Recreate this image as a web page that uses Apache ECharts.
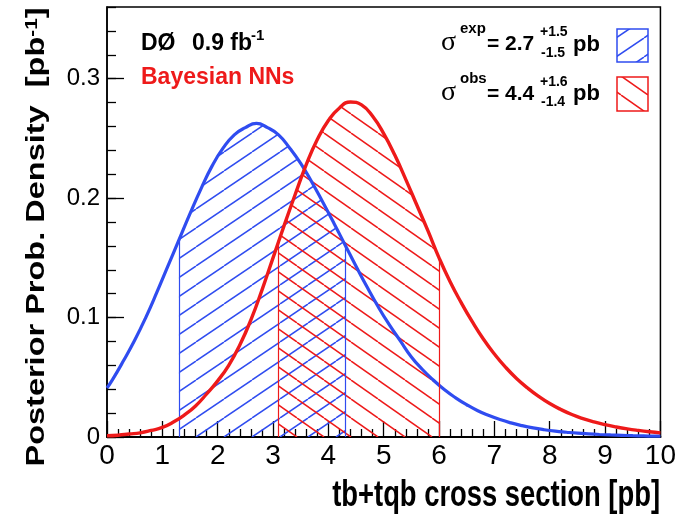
<!DOCTYPE html>
<html>
<head>
<meta charset="utf-8">
<script src="https://cdn.jsdelivr.net/npm/echarts@6/dist/echarts.min.js"></script>
<style>
  html, body { margin: 0; padding: 0; background: #fff; }
  #main { width: 679px; height: 522px; }
</style>
</head>
<body>
<div id="main"></div>
<script>
// expected posterior
var expX = [0, 0.1, 0.3, 0.5, 0.7, 0.9, 1.1, 1.3, 1.5, 1.7, 1.9, 2.1, 2.3, 2.5, 2.7, 2.9, 3.1, 3.3, 3.5, 3.7, 3.9, 4.1, 4.3, 4.5, 4.7, 4.9,
            5.1, 5.3, 5.5, 5.7, 5.9, 6.1, 6.3, 6.5, 6.7, 6.9, 7.1, 7.3, 7.5, 7.7, 7.9, 8.1, 8.3, 8.5, 8.7, 8.9, 9.1, 9.3, 9.5, 9.7, 9.9, 10];
var expY = [0.041, 0.048, 0.064, 0.081, 0.100, 0.121, 0.143, 0.165, 0.187, 0.208, 0.227, 0.242, 0.253, 0.259, 0.2625, 0.259, 0.253, 0.242, 0.229, 0.2135, 0.1965, 0.179, 0.161, 0.143, 0.1255, 0.109,
            0.094, 0.0805, 0.067, 0.0565, 0.0475, 0.0395, 0.0328, 0.027, 0.022, 0.018, 0.0146, 0.0118, 0.0095, 0.0076, 0.0061, 0.0049, 0.004, 0.0032, 0.0026, 0.0021, 0.0017, 0.0014, 0.0011, 0.0009, 0.0007, 0.0007];
// observed posterior
var obsX = [0, 0.2, 0.4, 0.6, 0.8, 1, 1.2, 1.4, 1.6, 1.8, 2, 2.2, 2.4, 2.6, 2.8, 3, 3.2, 3.4, 3.6, 3.8, 4, 4.2, 4.4, 4.6, 4.8,
            5, 5.2, 5.4, 5.6, 5.8, 6, 6.2, 6.4, 6.6, 6.8, 7, 7.2, 7.4, 7.6, 7.8, 8, 8.2, 8.4, 8.6, 8.8, 9, 9.2, 9.4, 9.6, 9.8, 10];
var obsY = [0.001, 0.0015, 0.0025, 0.0035, 0.0055, 0.008, 0.0125, 0.0185, 0.026, 0.036, 0.047, 0.060, 0.077, 0.098, 0.123, 0.150, 0.177, 0.203, 0.228, 0.249, 0.265, 0.2755, 0.2805, 0.278, 0.2685,
            0.254, 0.236, 0.2155, 0.194, 0.1725, 0.150, 0.130, 0.1125, 0.0965, 0.082, 0.0695, 0.0585, 0.049, 0.041, 0.034, 0.028, 0.023, 0.0188, 0.0154, 0.0126, 0.0103, 0.0084, 0.0068, 0.0055, 0.0044, 0.0035];
// shaded intervals and the curve height at their edges
var expBand = [1.3, 4.3];
var expEdgeY = [0.165, 0.161];
var obsBand = [3.1, 6.0];
var obsEdgeY = [0.1635, 0.150];

var BLUE = '#2f4cf0', RED = '#ee1a1a';

function pairs(xs, ys) {
  return xs.map(function (x, i) { return [x, ys[i]]; });
}
function bandData(xs, ys, band, edgeY) {
  var inner = pairs(xs, ys).filter(function (p) { return p[0] > band[0] + 1e-6 && p[0] < band[1] - 1e-6; });
  return [[band[0], edgeY[0]]].concat(inner, [[band[1], edgeY[1]]]);
}

// hatch tiles, dir 1 = "/", -1 = "\"
function hatch(color, dir, w, h) {
  var c = document.createElement('canvas');
  c.width = w; c.height = h;
  var g = c.getContext('2d');
  g.strokeStyle = color;
  g.lineWidth = 1.5;
  [-w, 0, w].forEach(function (dx) {
    g.beginPath();
    if (dir > 0) { g.moveTo(dx, h); g.lineTo(dx + w, 0); }
    else { g.moveTo(dx, 0); g.lineTo(dx + w, h); }
    g.stroke();
  });
  return c;
}
var blueHatch = hatch(BLUE, 1, 28, 19);
var redHatch = hatch(RED, -1, 27, 19);

function edges(band, edgeY, color) {
  return {
    silent: true,
    symbol: ['none', 'none'],
    label: { show: false },
    lineStyle: { color: color, width: 1.2, type: 'solid' },
    data: band.map(function (b, i) {
      return [{ coord: [b, 0] }, { coord: [b, edgeY[i]] }];
    })
  };
}

var myChart = echarts.init(document.getElementById('main'));

var FONT = 'Liberation Sans, Arial, sans-serif';
function txt(x, y, s, size, opts) {
  opts = opts || {};
  return { type: 'text', x: x, y: y, style: {
    text: s, align: opts.align || 'left', verticalAlign: 'middle', fontSize: size,
    fontWeight: opts.weight || 'bold', fontFamily: opts.family || FONT, fill: opts.fill || '#000' } };
}

option = {
  backgroundColor: '#fff',
  animation: false,
  grid: { left: 107, right: 13, top: 7, bottom: 85, show: true, borderColor: '#000', borderWidth: 1.5 },
  xAxis: {
    type: 'value', min: 0, max: 10, interval: 1,
    axisLine: { lineStyle: { color: '#000', width: 2 } },
    axisTick: { inside: true, length: 16, lineStyle: { color: '#000', width: 1.3 } },
    minorTick: { show: true, splitNumber: 5, length: 8, lineStyle: { color: '#000', width: 1.3 } },
    splitLine: { show: false },
    axisLabel: { color: '#000', fontSize: 28, fontFamily: FONT, margin: 5 }
  },
  yAxis: [{
    type: 'value', min: 0, max: 0.36, interval: 0.02,
    axisLine: { show: true, lineStyle: { color: '#000', width: 1.5 } },
    axisTick: { inside: true, length: 9, lineStyle: { color: '#000', width: 1.3 } },
    axisLabel: { show: false },
    splitLine: { show: false }
  }, {
    type: 'value', min: 0, max: 0.36, interval: 0.1, position: 'left',
    axisLine: { show: false },
    axisTick: { inside: true, length: 17, lineStyle: { color: '#000', width: 1.3 } },
    axisLabel: {
      color: '#000', fontSize: 24, fontFamily: FONT, margin: 7, showMaxLabel: false,
      formatter: function (v) { return v === 0 ? '0' : v.toFixed(1); }
    },
    splitLine: { show: false }
  }],
  series: [{
    name: 'exp band', type: 'line', yAxisIndex: 0,
    data: bandData(expX, expY, expBand, expEdgeY),
    smooth: 0.5, symbol: 'none', silent: true,
    lineStyle: { width: 0 },
    areaStyle: { color: { image: blueHatch, repeat: 'repeat' }, opacity: 1 },
    markLine: edges(expBand, expEdgeY, BLUE),
    z: 2
  }, {
    name: 'obs band', type: 'line', yAxisIndex: 0,
    data: bandData(obsX, obsY, obsBand, obsEdgeY),
    smooth: 0.5, symbol: 'none', silent: true,
    lineStyle: { width: 0 },
    areaStyle: { color: { image: redHatch, repeat: 'repeat' }, opacity: 1 },
    markLine: edges(obsBand, obsEdgeY, RED),
    z: 3
  }, {
    name: 'expected', type: 'line', yAxisIndex: 0,
    data: pairs(expX, expY),
    smooth: 0.5, symbol: 'none',
    lineStyle: { color: BLUE, width: 3.2 },
    z: 4
  }, {
    name: 'observed', type: 'line', yAxisIndex: 0,
    data: pairs(obsX, obsY),
    smooth: 0.5, symbol: 'none',
    lineStyle: { color: RED, width: 3.4 },
    z: 5
  }],
  graphic: [
    // axis titles
    { type: 'text', x: 37, y: 237, rotation: Math.PI / 2, scaleX: 1.3,
      style: { text: '{a|Posterior Prob. Density  [pb}{s|-1}{a|]}', align: 'center', verticalAlign: 'middle',
        rich: { a: { fontSize: 25, fontWeight: 'bold', fontFamily: FONT, fill: '#000' },
                s: { fontSize: 16, fontWeight: 'bold', fontFamily: FONT, fill: '#000', verticalAlign: 'top' } } } },
    { type: 'text', x: 660, y: 496, scaleX: 0.74,
      style: { text: 'tb+tqb cross section [pb]', align: 'right', verticalAlign: 'middle',
        fontSize: 37, fontWeight: 'bold', fontFamily: FONT, fill: '#000' } },
    // experiment label
    txt(141, 44, 'DØ', 23),
    txt(192, 44, '0.9 fb', 23),
    txt(251, 36, '-1', 15),
    txt(141, 78, 'Bayesian NNs', 23, { fill: RED }),
    // legend row 1
    txt(441, 43, 'σ', 28, { weight: 'normal', family: 'Liberation Serif, serif' }),
    txt(460, 29, 'exp', 15),
    txt(487, 44.5, '= 2.7', 21),
    txt(540, 32.5, '+1.5', 14),
    txt(541, 53, '-1.5', 14),
    txt(573, 44.5, 'pb', 22),
    { type: 'rect', shape: { x: 617, y: 29, width: 31, height: 33 },
      style: { fill: { image: blueHatch, repeat: 'repeat' }, stroke: BLUE, lineWidth: 1.5 } },
    // legend row 2
    txt(441, 92.5, 'σ', 28, { weight: 'normal', family: 'Liberation Serif, serif' }),
    txt(460, 78.5, 'obs', 15),
    txt(487, 94, '= 4.4', 21),
    txt(540, 82, '+1.6', 14),
    txt(541, 102.5, '-1.4', 14),
    txt(573, 94, 'pb', 22),
    { type: 'rect', shape: { x: 617, y: 77, width: 31, height: 34 },
      style: { fill: { image: redHatch, repeat: 'repeat' }, stroke: RED, lineWidth: 1.5 } }
  ]
};

myChart.setOption(option);
</script>
</body>
</html>
